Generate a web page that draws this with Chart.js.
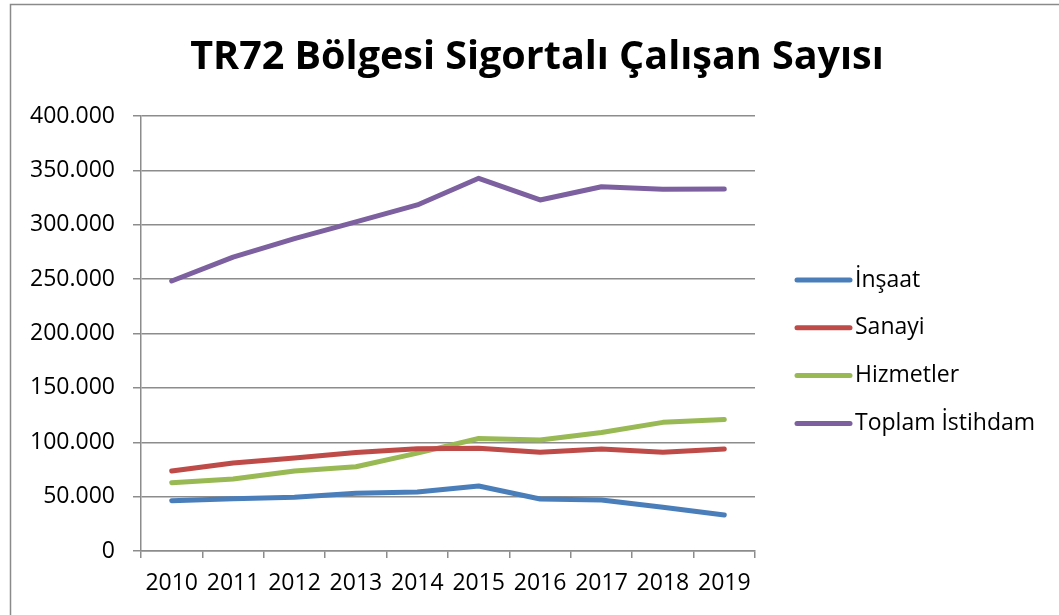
<!DOCTYPE html>
<html>
<head>
<meta charset="utf-8">
<script src="https://cdn.jsdelivr.net/npm/chart.js@4.4.0/dist/chart.umd.min.js"></script>
<style>
  html, body { margin: 0; padding: 0; background: #fff; }
  #wrap { position: relative; width: 1059px; height: 615px; }
</style>
</head>
<body>
<div id="wrap"><canvas id="c" width="1059" height="615"></canvas></div>
<script>
const years = ['2010','2011','2012','2013','2014','2015','2016','2017','2018','2019'];
const insaat = [46300, 48100, 49400, 53000, 54200, 59800, 47800, 46900, 40200, 33100];
const sanayi = [73600, 81000, 85500, 90500, 94000, 94400, 90800, 93800, 90800, 93800];
const hizmetler = [62800, 66200, 73500, 77500, 90000, 103500, 102000, 109000, 118300, 121000];
const toplam = [248300, 270300, 287200, 302700, 318200, 342700, 322800, 335000, 332600, 332900];
const seriesNames = ['İnşaat', 'Sanayi', 'Hizmetler', 'Toplam İstihdam'];
const seriesColors = ['#4a7ebb', '#be4b48', '#98b954', '#7d60a0'];
const titleText = 'TR72 Bölgesi Sigortalı Çalışan Sayısı';
const yMax = 400000, yStep = 50000;

Chart.defaults.font.family = "'Open Sans', 'DejaVu Sans', sans-serif";
Chart.defaults.color = '#000';

function fmt(v) {
  return String(Math.round(v)).replace(/\B(?=(\d{3})+(?!\d))/g, '.');
}

const frame = {
  id: 'frame',
  beforeDraw(chart) {
    const ctx = chart.ctx;
    ctx.save();
    ctx.fillStyle = '#fff';
    ctx.fillRect(0, 0, chart.width, chart.height);
    ctx.strokeStyle = '#8a8a8a';
    ctx.lineWidth = 1.5;
    ctx.strokeRect(10.5, 4.5, 1060, 620);
    ctx.restore();
  }
};

const chartTitle = {
  id: 'chartTitle',
  afterDraw(chart) {
    const ctx = chart.ctx;
    ctx.save();
    ctx.fillStyle = '#000';
    ctx.font = "bold 39.5px 'Open Sans', sans-serif";
    ctx.textAlign = 'center';
    ctx.textBaseline = 'middle';
    ctx.fillText(titleText, 537, 58);
    ctx.restore();
  }
};

const customLegend = {
  id: 'customLegend',
  afterDraw(chart) {
    const ctx = chart.ctx;
    ctx.save();
    const x0 = 797, x1 = 850, tx = 855, y0 = 280, dy = 47.8;
    chart.data.datasets.forEach((ds, i) => {
      const y = y0 + i * dy;
      ctx.strokeStyle = ds.borderColor;
      ctx.lineWidth = 5;
      ctx.lineCap = 'round';
      ctx.beginPath();
      ctx.moveTo(x0, y);
      ctx.lineTo(x1, y);
      ctx.stroke();
      ctx.fillStyle = '#000';
      ctx.font = "23px 'Open Sans', sans-serif";
      ctx.textBaseline = 'middle';
      ctx.textAlign = 'left';
      ctx.fillText(ds.label, tx, y);
    });
    ctx.restore();
  }
};

const seriesData = [insaat, sanayi, hizmetler, toplam];

new Chart(document.getElementById('c'), {
  type: 'line',
  data: {
    labels: years,
    datasets: seriesData.map((d, i) => ({
      label: seriesNames[i],
      data: d,
      borderColor: seriesColors[i],
      backgroundColor: seriesColors[i],
      borderWidth: 5,
      borderCapStyle: 'round',
      borderJoinStyle: 'round',
      pointRadius: 0,
      pointHoverRadius: 0,
      tension: 0,
      fill: false
    }))
  },
  options: {
    responsive: false,
    animation: false,
    devicePixelRatio: 1,
    layout: { padding: { left: 0, right: 304, top: 116, bottom: 0 } },
    plugins: {
      legend: { display: false },
      tooltip: { enabled: false },
      title: { display: false }
    },
    scales: {
      x: {
        offset: true,
        grid: {
          offset: true,
          drawOnChartArea: false,
          drawTicks: true,
          tickLength: 7,
          color: '#8c8c8c',
          lineWidth: 1.5
        },
        border: { display: true, color: '#8c8c8c', width: 1.5 },
        ticks: { font: { size: 23 }, padding: 12, maxRotation: 0, autoSkip: false },
        afterFit(scale) { scale.height = 64; }
      },
      y: {
        min: 0,
        max: yMax,
        grid: {
          color: '#8c8c8c',
          lineWidth: 1.5,
          tickLength: 8,
          drawTicks: true
        },
        border: { display: true, color: '#8c8c8c', width: 1.5 },
        ticks: {
          stepSize: yStep,
          font: { size: 23 },
          padding: 18,
          callback: (v) => fmt(v)
        },
        afterFit(scale) { scale.width = 141; }
      }
    }
  },
  plugins: [frame, chartTitle, customLegend]
});
</script>
</body>
</html>
